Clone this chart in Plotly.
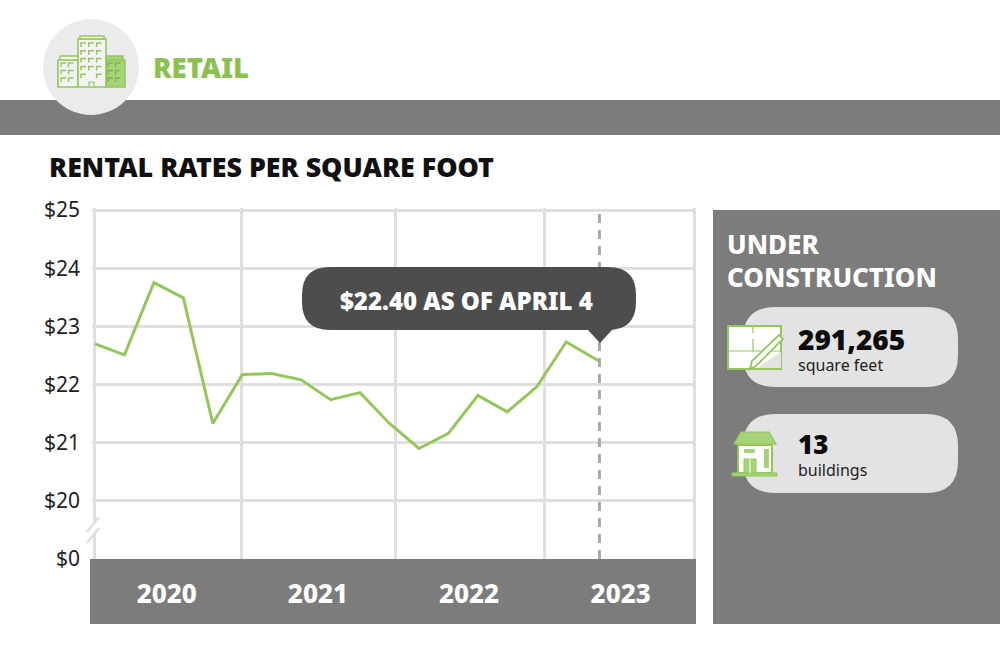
import plotly.graph_objects as go

# quarters since start of 2020, last one is the april 4 reading
periods = [0, 1, 2, 3, 4, 5, 6, 7, 8, 9, 10, 11, 12, 13, 14, 15, 16, 17.13]
rents = [22.70, 22.51, 23.75, 23.49, 21.33, 22.17, 22.19, 22.08, 21.74, 21.86,
         21.33, 20.90, 21.16, 21.81, 21.53, 21.96, 22.73, 22.40]

y_ticks = [19, 20, 21, 22, 23, 24, 25]
y_labels = ["$0", "$20", "$21", "$22", "$23", "$24", "$25"]

year_labels = ["2020", "2021", "2022", "2023"]
year_centers = [2.44, 7.57, 12.7, 17.85]
year_edges = [-0.034, 4.99, 10.19, 15.25, 20.34]
latest_period = 17.13

GREEN = "#95c65c"
GRID = "#dfdfdf"
GRAY = "#7c7c7c"
FONT = "Noto Sans"
W, H = 1000, 666


def fx(x):
    return x / W


def fy(y):
    return 1 - y / H


def path(pts, close=True):
    d = ""
    for i, (x, y) in enumerate(pts):
        d += ("M" if i == 0 else "L") + f"{fx(x):.5f},{fy(y):.5f} "
    return d + ("Z" if close else "")


def round_path(x0, y0, x1, y1, r):
    def p(x, y):
        return f"{fx(x):.5f},{fy(y):.5f}"
    return (f"M{p(x0 + r, y0)} L{p(x1 - r, y0)} Q{p(x1, y0)} {p(x1, y0 + r)} "
            f"L{p(x1, y1 - r)} Q{p(x1, y1)} {p(x1 - r, y1)} L{p(x0 + r, y1)} "
            f"Q{p(x0, y1)} {p(x0, y1 - r)} L{p(x0, y0 + r)} Q{p(x0, y0)} {p(x0 + r, y0)} Z")


shapes = []


def add_path(d, fill=None, line=None, lw=0, layer="above"):
    shapes.append(dict(type="path", path=d, xref="paper", yref="paper", layer=layer,
                       fillcolor=fill if fill else "rgba(0,0,0,0)",
                       line=dict(color=line if line else "rgba(0,0,0,0)", width=lw)))


def add_rect(x0, y0, x1, y1, fill=None, line=None, lw=0, layer="above"):
    add_path(path([(x0, y0), (x1, y0), (x1, y1), (x0, y1)]), fill, line, lw, layer)


# header
add_rect(0, 100, W, 135, fill=GRAY, layer="below")
shapes.append(dict(type="circle", xref="paper", yref="paper", x0=fx(43), x1=fx(139), y0=fy(115), y1=fy(19),
                   fillcolor="#ebebeb", line=dict(width=0), layer="above"))

# year band and right panel
add_rect(90, 559, 696, 624, fill=GRAY, layer="below")
add_rect(713, 210, W, 624, fill=GRAY, layer="below")
add_path(round_path(743, 307, 958, 387, 32), fill="#e3e3e3")
add_path(round_path(743, 414, 958, 493, 32), fill="#e3e3e3")

# axis break
add_path(path([(86, 526), (102, 516), (102, 530), (86, 540)]), fill="white")
add_path(path([(99, 517), (87, 532)], False), line=GRID, lw=2.5)
add_path(path([(99, 528), (87, 543)], False), line=GRID, lw=2.5)

# dashed marker for the latest reading
shapes.append(dict(type="line", xref="x", yref="paper", x0=latest_period, x1=latest_period,
                   y0=fy(559), y1=fy(210), layer="above", line=dict(color="#a9a9a9", width=3, dash="9px,7px")))

# callout
add_path(round_path(302, 267, 636, 330, 28), fill="#4d4d4d")
add_path(path([(587, 329), (613, 329), (600, 343)]), fill="#4d4d4d")

# building icon
for bx0, by0, bx1, fill in [(58, 60, 78, None), (106, 60, 125, "#a6d27a"), (78, 39, 106, None)]:
    add_rect(bx0, by0, bx1, 87, fill=fill if fill else "#f4f4f4", line=GREEN, lw=1.6)
add_rect(80, 36, 104, 39, fill="#f4f4f4", line=GREEN, lw=1.4)
add_rect(60, 56, 78, 60, fill="#f4f4f4", line=GREEN, lw=1.4)
add_rect(106, 56, 123, 60, fill="#a6d27a", line=GREEN, lw=1.4)
add_rect(89, 82, 94, 87, fill="#f4f4f4", line=GREEN, lw=1.2)
for col in range(3):
    for row in range(5):
        wx, wy = 81 + col * 7.8, 43 + row * 7.8
        if row == 4 and col == 1:
            continue
        add_path(path([(wx, wy + 4), (wx, wy), (wx + 5, wy)], False), line=GREEN, lw=1.5)
for col in range(2):
    for row in range(3):
        for ox in (61, 108):
            add_path(path([(ox + col * 7.5, 67 + row * 7.5), (ox + col * 7.5, 63 + row * 7.5),
                           (ox + 5 + col * 7.5, 63 + row * 7.5)], False),
                     line="#7fb24a" if ox == 108 else GREEN, lw=1.4)

# floor plan icon
add_rect(728, 326, 781, 369, fill="white", line=GREEN, lw=2)
add_path(path([(728, 351), (781, 351)], False), line=GREEN, lw=1.2)
add_path(path([(753, 326), (753, 333)], False), line=GREEN, lw=1.2)
add_path(path([(753, 339), (753, 351)], False), line=GREEN, lw=1.2)
add_path(path([(781, 352), (781, 368), (757, 368), (781, 352)]), fill="#e3e3e3")
add_path(path([(779, 335), (783, 339), (756, 366), (750, 369), (752, 361)]), fill="white", line=GREEN, lw=1.8)

# house icon
add_rect(738, 445, 772, 473, fill="white", line=GREEN, lw=2)
add_path(path([(741, 432), (769, 432), (776, 444), (734, 444)]), fill="#a6d27a", line=GREEN, lw=1.2)
add_rect(732, 473, 777, 476, fill="#a6d27a", line=GREEN, lw=1)
add_rect(744, 449, 755, 453, fill="#a6d27a")
add_rect(744, 459, 756, 473, fill="#a6d27a", line=GREEN, lw=1)
add_path(path([(750, 459), (750, 473)], False), line="white", lw=1)
add_rect(764, 449, 769, 468, fill="#a6d27a")


def txt(x, y, s, size, color, weight=700, anchor="left"):
    return dict(x=fx(x), y=fy(y), xref="paper", yref="paper", text=s, showarrow=False,
                xanchor=anchor, yanchor="middle", xshift=-2 if anchor == "left" else 0,
                font=dict(family=FONT, size=size, color=color, weight=weight))


annotations = [
    txt(153, 67, "RETAIL", 27.5, "#8cc152", 900),
    txt(49, 167, "RENTAL RATES PER SQUARE FOOT", 26.8, "#111111", 900),
    txt(727, 244, "UNDER", 26, "white", 800),
    txt(727, 277, "CONSTRUCTION", 26, "white", 800),
    txt(798, 339, "291,265", 28, "#0c0c0c", 900),
    txt(798, 365, "square feet", 16, "#222222", 400),
    txt(798, 444, "13", 26, "#0c0c0c", 900),
    txt(798, 470, "buildings", 16, "#222222", 400),
    txt(466, 300, "$22.40 AS OF APRIL 4", 24, "white", 900, "center"),
]

fig = go.Figure()
fig.add_trace(go.Scatter(x=periods, y=rents, mode="lines", line=dict(color=GREEN, width=3), hoverinfo="skip"))

# ranges padded a hair, plotly drops gridlines sitting right on the plot edge
x_pad = 0.06
y_pad = 0.03
fig.update_layout(
    width=W, height=H, margin=dict(l=0, r=0, t=0, b=0, autoexpand=False),
    paper_bgcolor="white", plot_bgcolor="rgba(0,0,0,0)", showlegend=False,
    font=dict(family=FONT),
    shapes=shapes, annotations=annotations,
    xaxis=dict(domain=[fx(94 - x_pad * 29.45), fx(694 + x_pad * 29.45)],
               range=[year_edges[0] - x_pad, year_edges[-1] + x_pad],
               tickmode="array", tickvals=year_centers, ticktext=year_labels,
               showgrid=False, zeroline=False, showline=False,
               ticks="outside", ticklen=12, tickcolor="rgba(0,0,0,0)",
               tickfont=dict(family=FONT, size=26, color="white", weight=800),
               minor=dict(tickmode="array", tickvals=year_edges, showgrid=True,
                          gridcolor=GRID, gridwidth=3, ticks="")),
    yaxis=dict(domain=[fy(559), fy(210 - y_pad * 58.17)], range=[19, 25 + y_pad],
               tickmode="array", tickvals=y_ticks, ticktext=y_labels,
               showgrid=True, gridcolor=GRID, gridwidth=3, zeroline=False, showline=False,
               ticks="outside", ticklen=7, tickcolor="rgba(0,0,0,0)",
               tickfont=dict(family=FONT, size=21, color="#222222")),
)

fig.write_html("out.html", config={"displayModeBar": False},
               post_script="document.body.style.margin='0';")
